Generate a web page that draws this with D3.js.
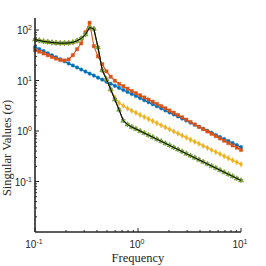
<!DOCTYPE html>
<html>
<head>
<meta charset="utf-8">
<script src="https://cdn.jsdelivr.net/npm/d3@7"></script>
<style>
  body { margin: 0; background: #fff; }
  text { font-family: "Liberation Sans", Arial, sans-serif; fill: #262626; }
</style>
</head>
<body>
<svg id="chart" width="266" height="266"></svg>
<script>
// frequency grid (rad/s), 50 log-spaced points
const freq = [0.1, 0.110, 0.121, 0.133, 0.146, 0.160, 0.176, 0.193, 0.212, 0.233,
  0.256, 0.281, 0.309, 0.339, 0.373, 0.409, 0.450, 0.494, 0.543, 0.596,
  0.655, 0.720, 0.791, 0.869, 0.954, 1.048, 1.151, 1.265, 1.389, 1.526,
  1.677, 1.842, 2.024, 2.223, 2.442, 2.683, 2.947, 3.237, 3.556, 3.907,
  4.292, 4.715, 5.179, 5.690, 6.251, 6.866, 7.543, 8.286, 9.103, 10];

const sysBlue = [46, 41.9, 38.2, 34.8, 31.7, 28.9, 26.3, 24.0, 21.8, 19.9,
  18.1, 16.5, 15.0, 13.7, 12.5, 11.4, 10.4, 9.45, 8.61, 7.84,
  7.14, 6.51, 5.93, 5.40, 4.92, 4.48, 4.08, 3.72, 3.39, 3.09,
  2.81, 2.56, 2.33, 2.13, 1.94, 1.76, 1.61, 1.46, 1.33, 1.21,
  1.11, 1.01, 0.919, 0.837, 0.763, 0.695, 0.633, 0.577, 0.525, 0.479];

const sysOrange = [40, 37.3, 34.4, 31.7, 29.2, 27.2, 25.5, 25.0, 26.2, 31.8,
  41.6, 54.5, 90, 139, 48, 30, 21, 15.2, 11.9, 9.9,
  8.6, 7.7, 6.9, 6.2, 5.62, 5.1, 4.62, 4.2, 3.81, 3.45,
  3.12, 2.82, 2.55, 2.31, 2.08, 1.87, 1.68, 1.51, 1.35, 1.21,
  1.09, 0.98, 0.88, 0.79, 0.712, 0.641, 0.577, 0.519, 0.467, 0.42];

const sysYellow = [65, 62, 59.5, 58, 56.5, 55.5, 55, 55, 55.5, 57,
  61, 68, 82, 112, 105, 45, 16, 10.6, 6.5, 4.6,
  3.6, 3.15, 2.8, 2.53, 2.3, 2.08, 1.90, 1.73, 1.58, 1.43,
  1.30, 1.19, 1.08, 0.98, 0.895, 0.814, 0.741, 0.675, 0.615, 0.56,
  0.509, 0.464, 0.422, 0.384, 0.35, 0.318, 0.29, 0.264, 0.24, 0.219];

const sysFull = [65, 62, 59.5, 58, 56.5, 55.5, 55, 55, 55.5, 57,
  61, 68, 82, 112, 105, 45, 16, 10.6, 6.7, 4.2,
  2.64, 1.6, 1.34, 1.2, 1.1, 1.0, 0.912, 0.830, 0.756, 0.688,
  0.626, 0.570, 0.519, 0.472, 0.430, 0.391, 0.356, 0.324, 0.295, 0.269,
  0.245, 0.223, 0.203, 0.185, 0.168, 0.153, 0.139, 0.127, 0.115, 0.105];

const series = [
  { values: sysBlue, color: "#0072BD", symbol: d3.symbolCircle, size: 10 },
  { values: sysOrange, color: "#D95319", symbol: d3.symbolSquare, size: 11 },
  { values: sysYellow, color: "#EDB120", symbol: d3.symbolDiamond, size: 9 },
  { values: sysFull, color: "#7E2F8E", symbol: d3.symbolAsterisk, size: 16, stroke: true },
  { values: sysFull, color: "#77AC30", symbol: d3.symbolTriangle, size: 12 },
  { values: sysFull, color: "#000000", symbol: null }
];

const xTicks = [0.1, 1, 10];
const yTicks = [0.1, 1, 10, 100];

const svg = d3.select("#chart");
const x = d3.scaleLog().domain([0.1, 10]).range([35, 241]);
const y = d3.scaleLog().domain([0.01, Math.pow(10, 2.238)]).range([232, 18]);

const line = d3.line().x((d, i) => x(freq[i])).y(d => y(d));

const g = svg.append("g");

series.forEach(s => {
  g.append("path")
    .attr("d", line(s.values))
    .attr("fill", "none")
    .attr("stroke", s.color)
    .attr("stroke-width", s.symbol ? 1.1 : 1);
  if (!s.symbol) return;
  const sym = d3.symbol().type(s.symbol).size(s.size);
  g.selectAll(null)
    .data(s.values)
    .join("path")
    .attr("d", sym)
    .attr("transform", (d, i) => `translate(${x(freq[i])},${y(d)})`)
    .attr("fill", s.stroke ? "none" : s.color)
    .attr("stroke", s.color)
    .attr("stroke-width", s.stroke ? 0.8 : 0.4);
});

// axes, MATLAB style: ticks inward, box off
const axisColor = "#262626";
const xMinor = [], yMinor = [];
[0.1, 1].forEach(d => { for (let k = 2; k <= 9; k++) xMinor.push(d * k); });
[0.01, 0.1, 1, 10, 100].forEach(d => {
  for (let k = 2; k <= 9; k++) if (d * k <= y.domain()[1]) yMinor.push(d * k);
});

const ax = svg.append("g");
ax.selectAll(".xt").data(xTicks.concat(xMinor)).join("line")
  .attr("x1", d => x(d)).attr("x2", d => x(d))
  .attr("y1", 232).attr("y2", d => xTicks.includes(d) ? 228 : 230)
  .attr("stroke", axisColor).attr("stroke-width", 1);
ax.selectAll(".yt").data(yTicks.concat(yMinor)).join("line")
  .attr("y1", d => y(d)).attr("y2", d => y(d))
  .attr("x1", 35).attr("x2", d => yTicks.includes(d) ? 39 : 37)
  .attr("stroke", axisColor).attr("stroke-width", 1);

ax.append("line").attr("x1", 35).attr("x2", 241).attr("y1", 232).attr("y2", 232)
  .attr("stroke", axisColor).attr("stroke-width", 1.6);
ax.append("line").attr("x1", 35).attr("x2", 35).attr("y1", 18).attr("y2", 232)
  .attr("stroke", axisColor).attr("stroke-width", 1.6);

function expLabel(sel, d) {
  const e = Math.round(Math.log10(d));
  sel.append("tspan").text("10");
  sel.append("tspan").attr("dy", -4).attr("font-size", 7).text(e);
}

xTicks.forEach(d => {
  const t = ax.append("text")
    .attr("x", x(d) - 1).attr("y", 248)
    .attr("text-anchor", "middle")
    .attr("font-size", 10);
  expLabel(t, d);
});
yTicks.forEach(d => {
  const t = ax.append("text")
    .attr("x", 32).attr("y", y(d) + 4)
    .attr("text-anchor", "end")
    .attr("font-size", 10);
  expLabel(t, d);
});

svg.append("text")
  .attr("x", 138).attr("y", 262)
  .attr("text-anchor", "middle")
  .style("font-family", "'Liberation Serif', serif")
  .attr("font-size", 12.5)
  .text("Frequency");

svg.append("text")
  .attr("transform", "translate(11,148) rotate(-90)")
  .attr("text-anchor", "middle")
  .style("font-family", "'Liberation Serif', serif")
  .attr("font-size", 12.5)
  .text("Singular Values (")
  .append("tspan").style("font-style", "italic").text("σ")
  .select(function () { return this.parentNode; })
  .append("tspan").text(")");
</script>
</body>
</html>
